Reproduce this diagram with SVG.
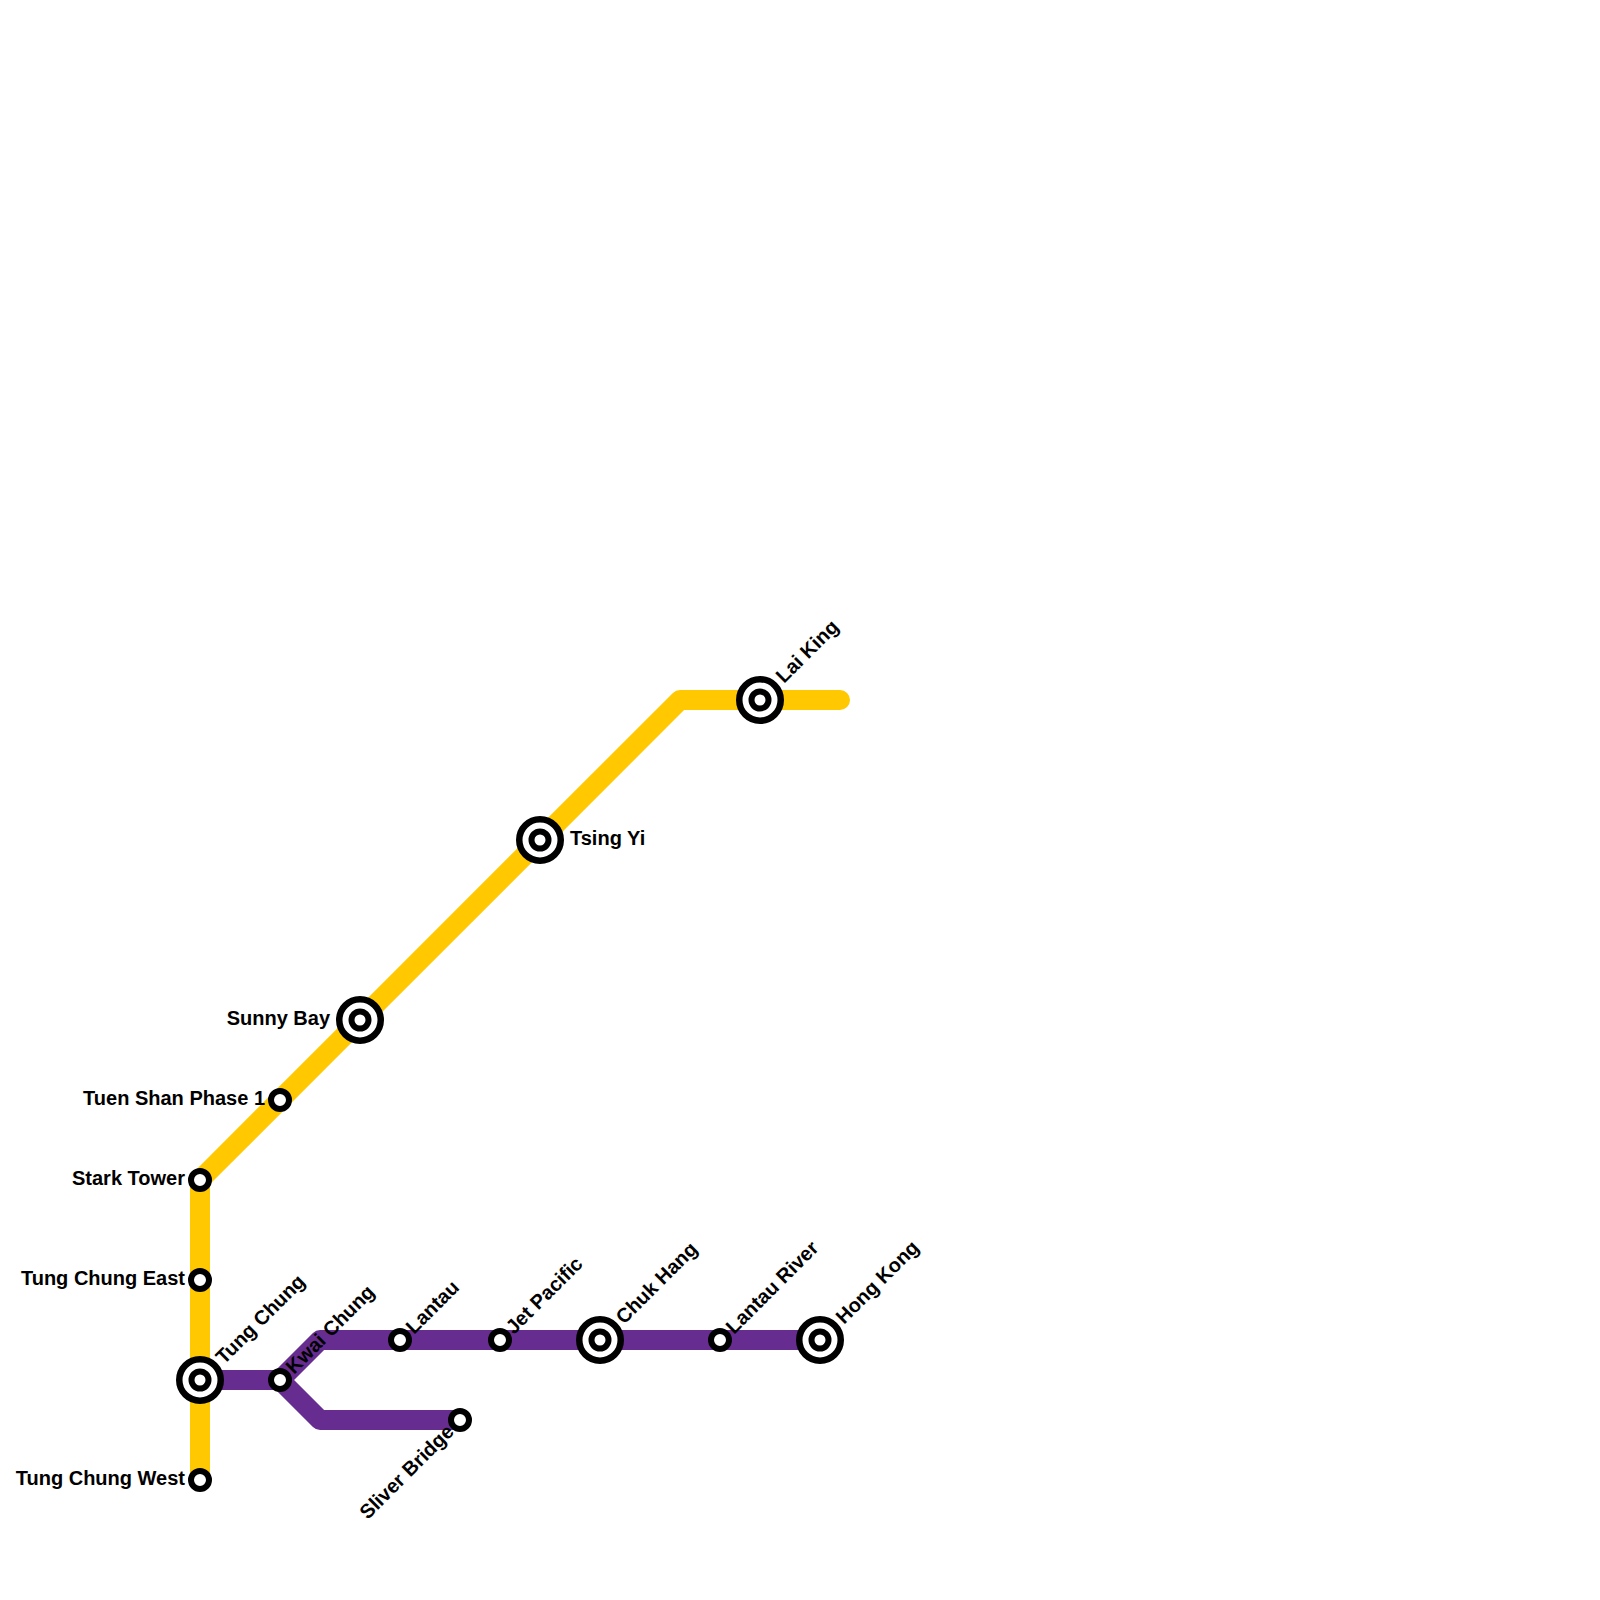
<svg xmlns="http://www.w3.org/2000/svg" width="1600" height="1600" viewBox="0 0 1600 1600">
<style>
.line{fill:none;stroke-width:20;stroke-linecap:round;stroke-linejoin:round}
.ring{fill:#fff;stroke:#000;stroke-width:6}
.big{fill:#fff;stroke:#000;stroke-width:6.5}
.in{fill:#fff;stroke:#000;stroke-width:6}
text{font-family:"Liberation Sans",Arial,sans-serif;font-weight:700;font-size:20px;fill:#000}
.e{text-anchor:end}
</style>
<rect width="1600" height="1600" fill="#fff"/>
<g id="connectors">
<path class="line" style="stroke:#ffc800" d="M200 1480V1180L680 700H840"/>
<path class="line" style="stroke:#662c90" d="M200 1380H280L320 1340H820"/>
<path class="line" style="stroke:#662c90" d="M280 1380L320 1420H460"/>
</g>
<g id="tung-chung-west"><circle class="ring" cx="200" cy="1480" r="9"/><text class="e" x="185" y="1485">Tung Chung West</text></g>
<g id="tung-chung-east"><circle class="ring" cx="200" cy="1280" r="9"/><text class="e" x="185" y="1285">Tung Chung East</text></g>
<g id="stark-tower"><circle class="ring" cx="200" cy="1180" r="9"/><text class="e" x="185" y="1185">Stark Tower</text></g>
<g id="tuen-shan"><circle class="ring" cx="280" cy="1100" r="9"/><text class="e" x="265" y="1105">Tuen Shan Phase 1</text></g>
<g id="sunny-bay"><circle class="big" cx="360" cy="1020" r="20.75"/><circle class="in" cx="360" cy="1020" r="8.5"/><text class="e" x="330" y="1025">Sunny Bay</text></g>
<g id="tsing-yi"><circle class="big" cx="540" cy="840" r="20.75"/><circle class="in" cx="540" cy="840" r="8.5"/><text x="570" y="845">Tsing Yi</text></g>
<g id="lai-king"><circle class="big" cx="760" cy="700" r="20.75"/><circle class="in" cx="760" cy="700" r="8.5"/><text transform="translate(784 684) rotate(-45)">Lai King</text></g>
<g id="tung-chung"><circle class="big" cx="200" cy="1380" r="20.75"/><circle class="in" cx="200" cy="1380" r="8.5"/><text transform="translate(224 1365) rotate(-45)">Tung Chung</text></g>
<g id="kwai-chung"><circle class="ring" cx="280" cy="1380" r="9"/><text transform="translate(294 1375) rotate(-45)">Kwai Chung</text></g>
<g id="lantau"><circle class="ring" cx="400" cy="1340" r="9"/><text transform="translate(414 1335) rotate(-45)">Lantau</text></g>
<g id="jet-pacific"><circle class="ring" cx="500" cy="1340" r="9"/><text transform="translate(514 1335) rotate(-45)">Jet Pacific</text></g>
<g id="chuk-hang"><circle class="big" cx="600" cy="1340" r="20.75"/><circle class="in" cx="600" cy="1340" r="8.5"/><text transform="translate(624 1325) rotate(-45)">Chuk Hang</text></g>
<g id="lantau-river"><circle class="ring" cx="720" cy="1340" r="9"/><text transform="translate(734 1335) rotate(-45)">Lantau River</text></g>
<g id="hong-kong"><circle class="big" cx="820" cy="1340" r="20.75"/><circle class="in" cx="820" cy="1340" r="8.5"/><text transform="translate(844 1325) rotate(-45)">Hong Kong</text></g>
<g id="sliver-bridge"><circle class="ring" cx="460" cy="1420" r="9"/><text class="e" transform="translate(455 1433) rotate(-45)">Sliver Bridge</text></g>
</svg>
